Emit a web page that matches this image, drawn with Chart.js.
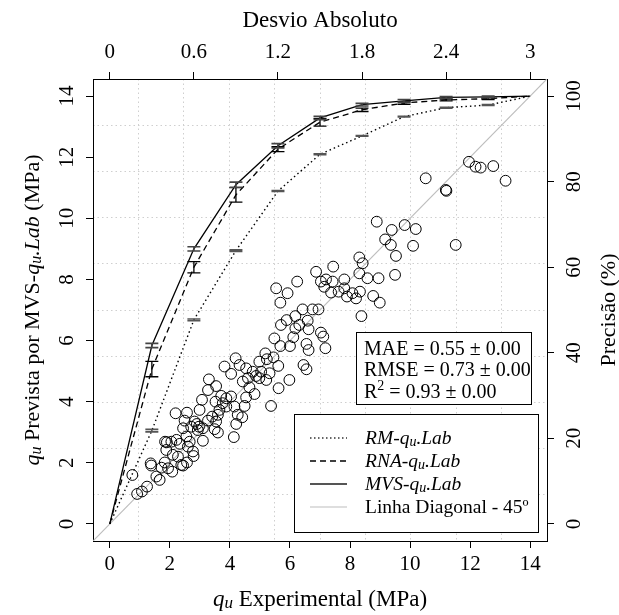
<!DOCTYPE html>
<html>
<head>
<meta charset="utf-8">
<script src="https://cdn.jsdelivr.net/npm/chart.js@4.4.0/dist/chart.umd.min.js"></script>
<style>
	html, body { margin: 0; padding: 0; background: #fff; }
	canvas { display: block; }
</style>
</head>
<body>
<canvas id="qvChart" width="619" height="615"></canvas>
<script>
'use strict'

// tick labels
var xTicks = [0, 2, 4, 6, 8, 10, 12, 14];
var yTicks = [0, 2, 4, 6, 8, 10, 12, 14];
var topTicks = [0, 0.6, 1.2, 1.8, 2.4, 3];
var rightTicks = [0, 20, 40, 60, 80, 100];

// qu experimental vs prevista (MPa)
var expX = [0.75, 0.91, 1.07, 1.24, 1.36, 1.38, 1.55, 1.66, 1.72, 1.83, 1.94, 2.08, 1.88, 1.84, 1.90, 2.05,
	2.22, 2.19, 2.10, 2.27, 2.38, 2.44, 2.57, 2.33, 2.44, 2.49, 2.57, 2.55, 2.60, 2.66, 2.77, 2.79,
	2.71, 2.82, 2.90, 2.93, 2.99, 2.97, 3.10, 3.10, 3.07, 3.27, 3.30, 3.27, 3.41, 3.49, 3.60, 3.54,
	3.52, 3.54, 3.60, 3.65, 3.71, 3.76, 3.82, 3.88, 3.88, 4.04, 4.04, 4.13, 4.19, 4.15, 4.21, 4.26,
	4.32, 4.41, 4.43, 4.49, 4.54, 4.54, 4.60, 4.65, 4.76, 4.82, 4.87, 4.98, 4.98, 5.04, 5.18, 5.21,
	5.23, 5.32, 5.37, 5.48, 5.45, 5.61, 5.62, 5.68, 5.70, 5.68, 5.89, 6.00, 5.98, 6.11, 6.18, 6.18,
	6.31, 6.42, 6.45, 6.55, 6.59, 6.62, 6.55, 6.62, 6.75, 6.95, 7.03, 7.11, 7.18,
	5.54, 5.92, 6.24, 6.87, 7.03, 7.20, 7.14, 7.44, 7.42, 7.37, 7.62, 7.81, 7.81, 7.90, 8.08, 8.20,
	8.31, 8.31, 8.42, 9.53, 9.50, 8.58, 8.95, 8.33, 8.77, 8.99, 8.38,
	11.96, 12.18, 12.35, 12.77, 13.18, 10.52, 11.19, 11.21, 8.89, 9.39, 9.82, 10.19, 9.17, 9.36, 10.10, 11.52];
var prevY = [1.60, 0.98, 1.06, 1.22, 1.98, 1.91, 1.55, 1.44, 1.84, 2.01, 1.82, 1.71, 2.42, 2.69, 2.67, 2.69,
	2.75, 3.62, 2.26, 2.20, 1.93, 1.91, 2.01, 2.62, 3.13, 3.38, 3.64, 2.86, 2.53, 2.69, 2.37, 2.22,
	3.18, 3.35, 3.27, 3.07, 3.73, 3.18, 3.13, 2.72, 4.06, 4.38, 4.73, 3.38, 3.51, 3.10, 2.99, 4.51,
	4.00, 3.35, 3.57, 3.73, 4.19, 3.95, 5.15, 4.11, 3.84, 4.91, 4.17, 2.84, 5.42, 3.84, 3.27, 3.57,
	5.20, 3.49, 4.66, 3.86, 5.09, 4.14, 4.77, 4.47, 4.98, 4.25, 4.84, 4.77, 5.31, 4.98, 5.58, 4.71,
	5.39, 4.93, 3.86, 6.07, 5.45, 5.17, 4.44, 5.82, 6.51, 7.24, 6.67, 5.82, 4.71, 6.11, 6.80, 6.40,
	6.51, 7.02, 5.20, 5.06, 6.65, 6.37, 5.89, 5.69, 7.02, 7.02, 6.26, 6.13, 5.75,
	7.71, 7.55, 7.93, 8.25, 7.93, 8.00, 7.76, 8.42, 7.93, 7.57, 7.60, 8.00, 7.71, 7.44, 7.55, 7.38,
	8.72, 8.20, 8.53, 8.77, 8.15, 8.04, 8.04, 7.60, 7.46, 7.24, 6.80,
	11.85, 11.69, 11.66, 11.71, 11.23, 11.31, 10.93, 10.90, 9.89, 9.62, 9.78, 9.65, 9.31, 9.13, 9.10, 9.13];

// linha diagonal
var diagX = [-1, 16];

// precisao (%) vs desvio absoluto
var desvio = [0, 0.3, 0.6, 0.9, 1.2, 1.5, 1.8, 2.1, 2.4, 2.7, 3];
var precMVS = [0, 41.7, 64.3, 79.3, 88.4, 94.9, 98.0, 98.9, 99.7, 99.8, 100];
var errMVS = [0, 0.5, 0.5, 0.6, 0.5, 0.4, 0.3, 0.3, 0.2, 0.2, 0];
var precRNA = [0, 36.2, 60.0, 76.9, 87.6, 93.9, 96.8, 98.4, 99.1, 99.4, 100];
var errRNA = [0, 1.8, 1.3, 1.7, 0.6, 0.9, 0.4, 0.3, 0.2, 0.2, 0];
var precRM = [0, 21.8, 47.7, 63.9, 77.8, 86.4, 90.7, 95.2, 97.3, 97.9, 100];
var errRM = [0, 0.3, 0.2, 0.2, 0.1, 0.1, 0.1, 0.1, 0.1, 0.1, 0];

// textos
var statLines = [
	[{t: 'MAE = 0.55 \u00b1 0.00'}],
	[{t: 'RMSE = 0.73 \u00b1 0.00'}],
	[{t: 'R'}, {t: '2', sup: 1, sm: 1}, {t: ' = 0.93 \u00b1 0.00'}]
];
var legendLabels = [
	[{t: 'RM-', it: 1}, {t: 'q', it: 1}, {t: 'u', it: 1, sm: 1}, {t: '.Lab', it: 1}],
	[{t: 'RNA-', it: 1}, {t: 'q', it: 1}, {t: 'u', it: 1, sm: 1}, {t: '.Lab', it: 1}],
	[{t: 'MVS-', it: 1}, {t: 'q', it: 1}, {t: 'u', it: 1, sm: 1}, {t: '.Lab', it: 1}],
	[{t: 'Linha Diagonal - 45\u00ba'}]
];
var titleBottom = [{t: 'q', it: 1}, {t: 'u', it: 1, sm: 1}, {t: ' Experimental (MPa)'}];
var titleLeft = [{t: 'q', it: 1}, {t: 'u', it: 1, sm: 1}, {t: ' Prevista por MVS-'}, {t: 'q', it: 1}, {t: 'u', it: 1, sm: 1}, {t: '.Lab', it: 1}, {t: ' (MPa)'}];
var titleTop = [{t: 'Desvio Absoluto'}];
var titleRight = [{t: 'Precis\u00e3o (%)'}];

var FAMILY = "'Liberation Serif', 'Times New Roman', serif";
Chart.defaults.font.family = FAMILY;
Chart.defaults.color = '#000';

function runFont(r, size) {
	return (r.it ? 'italic ' : '') + (r.sm ? Math.round(size * 0.72) : size) + 'px ' + FAMILY;
}

function drawRich(ctx, runs, size, x, y, angle, align) {
	ctx.save();
	ctx.translate(x, y);
	ctx.rotate(angle || 0);
	ctx.textBaseline = 'alphabetic';
	ctx.fillStyle = '#000';
	var w = 0;
	runs.forEach(function(r) { ctx.font = runFont(r, size); w += ctx.measureText(r.t).width; });
	var cx = align === 'left' ? 0 : -w / 2;
	runs.forEach(function(r) {
		ctx.font = runFont(r, size);
		var dy = r.sup ? -size * 0.38 : (r.sm ? size * 0.1 : 0);
		ctx.fillText(r.t, cx, size * 0.33 + dy);
		cx += ctx.measureText(r.t).width;
	});
	ctx.restore();
}

/*----error bars, titles, caixas----*/
var extras = {
	id: 'extras',
	afterDatasetsDraw: function(chart) {
		var ctx = chart.ctx, xs = chart.scales.x2, ys = chart.scales.y2;
		var sets = [
			{mean: precRM, err: errRM, color: '#555', width: 1.6},
			{mean: precRNA, err: errRNA, color: '#000', width: 1.3},
			{mean: precMVS, err: errMVS, color: '#444', width: 1.6}
		];
		sets.forEach(function(e) {
			ctx.save();
			ctx.strokeStyle = e.color;
			ctx.lineWidth = e.width;
			desvio.forEach(function(d, i) {
				if (!e.err[i]) return;
				var px = xs.getPixelForValue(d);
				var lo = ys.getPixelForValue(e.mean[i] - e.err[i]);
				var hi = ys.getPixelForValue(e.mean[i] + e.err[i]);
				ctx.beginPath();
				ctx.moveTo(px, lo); ctx.lineTo(px, hi);
				ctx.moveTo(px - 6.5, lo); ctx.lineTo(px + 6.5, lo);
				ctx.moveTo(px - 6.5, hi); ctx.lineTo(px + 6.5, hi);
				ctx.stroke();
			});
			ctx.restore();
		});
	},
	afterDraw: function(chart) {
		var ctx = chart.ctx, a = chart.chartArea;
		var midX = (a.left + a.right) / 2, midY = (a.top + a.bottom) / 2;

		// axis titles
		drawRich(ctx, titleTop, 23, midX, 19, 0);
		drawRich(ctx, titleBottom, 23, midX, 598, 0);
		drawRich(ctx, titleLeft, 22, 32, midY, -Math.PI / 2);
		drawRich(ctx, titleRight, 22, 608, midY, -Math.PI / 2);

		// stats box
		var sx = a.right - 191, sy = a.top + 253;
		ctx.save();
		ctx.fillStyle = '#fff';
		ctx.fillRect(sx, sy, 175, 72);
		ctx.strokeStyle = '#000';
		ctx.lineWidth = 1;
		ctx.strokeRect(sx + 0.5, sy + 0.5, 175, 72);
		ctx.restore();
		statLines.forEach(function(runs, i) {
			drawRich(ctx, runs, 20, sx + 8, sy + 16 + i * 21.5, 0, 'left');
		});

		// legend
		var lx = a.left + 201, ly = a.top + 335;
		ctx.save();
		ctx.fillStyle = '#fff';
		ctx.fillRect(lx, ly, 244, 118);
		ctx.strokeStyle = '#000';
		ctx.lineWidth = 1;
		ctx.strokeRect(lx + 0.5, ly + 0.5, 244, 118);
		ctx.restore();
		var styles = [
			{color: '#333', width: 1.3, dash: [1.5, 2.5]},
			{color: '#000', width: 1.3, dash: [6, 4]},
			{color: '#555', width: 2.2, dash: []},
			{color: '#bdbdbd', width: 1.2, dash: []}
		];
		legendLabels.forEach(function(runs, i) {
			var yy = ly + 24 + i * 23;
			ctx.save();
			ctx.strokeStyle = styles[i].color;
			ctx.lineWidth = styles[i].width;
			ctx.setLineDash(styles[i].dash);
			ctx.beginPath();
			ctx.moveTo(lx + 16, yy);
			ctx.lineTo(lx + 53, yy);
			ctx.stroke();
			ctx.restore();
			drawRich(ctx, runs, 19.5, lx + 71, yy, 0, 'left');
		});
	}
};

function fixedTicks(list) {
	return function(s) { s.ticks = list.map(function(v) { return {value: v}; }); };
}
function tenths(s) {
	var t = [];
	for (var k = 1; k < 10; k++) t.push({value: s.min + k * (s.max - s.min) / 10});
	s.ticks = t;
}

var axisGrid = {drawOnChartArea: false, drawTicks: true, tickLength: 7, tickColor: '#000', tickWidth: 1};
var axisBorder = {display: true, color: '#000', width: 1};

var ctx = document.getElementById('qvChart');
var qvChart = new Chart(ctx, {
	type: 'scatter',
	data: {
		datasets: [{
			label: 'pontos',
			data: expX.map(function(v, i) { return {x: v, y: prevY[i]}; }),
			xAxisID: 'x',
			yAxisID: 'y',
			pointRadius: 5.4,
			pointBorderWidth: 1,
			pointBorderColor: '#000',
			pointBackgroundColor: 'rgba(0,0,0,0)'
		}, {
			type: 'line',
			label: 'MVS-qu.Lab',
			data: desvio.map(function(v, i) { return {x: v, y: precMVS[i]}; }),
			xAxisID: 'x2',
			yAxisID: 'y2',
			borderColor: '#000',
			borderWidth: 1.3,
			pointRadius: 0,
			tension: 0
		}, {
			type: 'line',
			label: 'RNA-qu.Lab',
			data: desvio.map(function(v, i) { return {x: v, y: precRNA[i]}; }),
			xAxisID: 'x2',
			yAxisID: 'y2',
			borderColor: '#000',
			borderWidth: 1.3,
			borderDash: [6, 4],
			pointRadius: 0,
			tension: 0
		}, {
			type: 'line',
			label: 'RM-qu.Lab',
			data: desvio.map(function(v, i) { return {x: v, y: precRM[i]}; }),
			xAxisID: 'x2',
			yAxisID: 'y2',
			borderColor: '#000',
			borderWidth: 1.4,
			borderDash: [1.5, 3],
			pointRadius: 0,
			tension: 0
		}, {
			type: 'line',
			label: 'Linha Diagonal - 45\u00ba',
			data: diagX.map(function(v) { return {x: v, y: v}; }),
			xAxisID: 'x',
			yAxisID: 'y',
			borderColor: '#bdbdbd',
			borderWidth: 1.2,
			pointRadius: 0
		}]
	},
	options: {
		responsive: false,
		animation: false,
		events: [],
		layout: {padding: 0, autoPadding: false},
		plugins: {
			legend: {display: false},
			tooltip: {enabled: false}
		},
		scales: {
			x: {
				type: 'linear', position: 'bottom', min: -0.56, max: 14.56,
				afterBuildTicks: fixedTicks(xTicks),
				afterFit: function(s) { s.height = 74; },
				ticks: {font: {size: 21}, padding: 4, maxRotation: 0, callback: function(v) { return String(v); }},
				grid: axisGrid, border: axisBorder
			},
			y: {
				type: 'linear', position: 'left', min: -0.56, max: 14.56,
				afterBuildTicks: fixedTicks(yTicks),
				afterFit: function(s) { s.width = 93; },
				ticks: {font: {size: 21}, padding: 8, minRotation: 90, maxRotation: 90, crossAlign: 'center', callback: function(v) { return String(v); }},
				grid: axisGrid, border: axisBorder
			},
			x2: {
				type: 'linear', position: 'top', min: -0.12, max: 3.12,
				afterBuildTicks: fixedTicks(topTicks),
				afterFit: function(s) { s.height = 79; },
				ticks: {font: {size: 21}, padding: 7, maxRotation: 0, callback: function(v) { return String(v); }},
				grid: axisGrid, border: axisBorder
			},
			y2: {
				type: 'linear', position: 'right', min: -4, max: 104,
				afterBuildTicks: fixedTicks(rightTicks),
				afterFit: function(s) { s.width = 72; },
				ticks: {font: {size: 21}, padding: 5, minRotation: 90, maxRotation: 90, crossAlign: 'center', callback: function(v) { return String(v); }},
				grid: axisGrid, border: axisBorder
			},
			gx: {
				type: 'linear', position: 'bottom', min: -0.56, max: 14.56,
				afterBuildTicks: tenths,
				afterFit: function(s) { s.height = 0; },
				ticks: {display: false},
				grid: {color: '#cfcfcf', lineWidth: 1, drawTicks: false, tickLength: 0},
				border: {display: false, dash: [1.5, 3]}
			},
			gy: {
				type: 'linear', position: 'left', min: -0.56, max: 14.56,
				afterBuildTicks: tenths,
				afterFit: function(s) { s.width = 0; },
				ticks: {display: false},
				grid: {color: '#cfcfcf', lineWidth: 1, drawTicks: false, tickLength: 0},
				border: {display: false, dash: [1.5, 3]}
			}
		}
	},
	plugins: [extras]
});
</script>
</body>
</html>
